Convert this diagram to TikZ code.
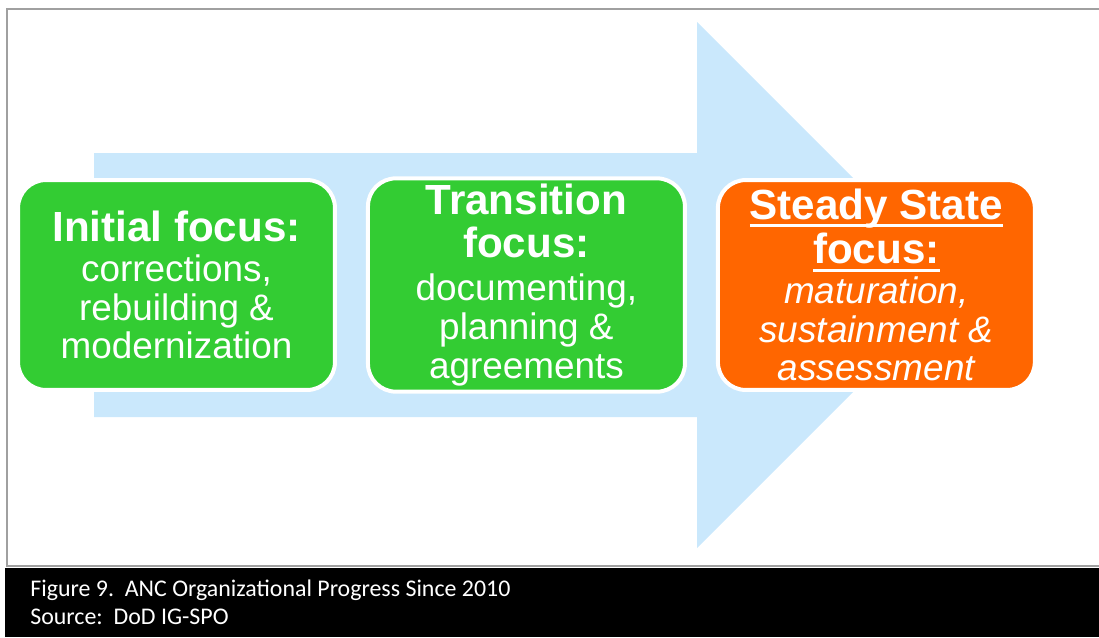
\documentclass[tikz,border=0pt]{standalone}
\usepackage{fontspec}
\setmainfont{Liberation Sans}
\newfontfamily\captionfont{Carlito}
\usetikzlibrary{positioning}
\definecolor{stagegreen}{RGB}{51,204,51}
\definecolor{stageorange}{RGB}{255,102,0}
\definecolor{arrowblue}{RGB}{202,232,252}
\definecolor{framegray}{RGB}{160,160,160}
\newcommand{\stageul}[1]{\setbox0\hbox{#1}\rlap{\rule[-4.6pt]{\wd0}{1.8pt}}\box0}
\tikzset{
	stagebox/.style={draw=white, line width=0.08cm, rounded corners=0.56cm,
		minimum width=6.34cm, minimum height=4.2cm, align=center, text=white,
		font=\fontsize{21}{22}\selectfont},
	captiontext/.style={text=white, inner sep=0pt, anchor=base west,
		font=\captionfont\fontsize{13.6}{15}\selectfont},
}

\begin{document}
\begin{tikzpicture}[x=0.02cm, y=-0.02cm]
		\useasboundingbox (0,0) rectangle (1099,637);
		% Frame and caption bar
		\draw [framegray, line width=0.04cm] (1099,566)--(7,566)--(7,9)--(1099,9);
		\fill [black] (5,568) rectangle (1099,637);
		\node [captiontext] (caption) at (30,596) {Figure 9.\ \ ANC Organizational Progress Since 2010};
		\node [captiontext] (source) at (30,624) {Source:\ \ DoD IG-SPO};
		% Big arrow
		\fill [arrowblue] (94,153)--(697,153)--(697,22)--(960,285)--(697,548)--(697,417)--(94,417)--cycle;
		% Stages
		\node [stagebox, fill=stagegreen] (initial) at (176.5,285)
			{{\bfseries\fontsize{24}{25}\selectfont Initial focus:}\\[1pt]
			corrections,\\ rebuilding \&\\ modernization};
		\node [stagebox, fill=stagegreen, right=0.58cm of initial] (transition)
			{{\bfseries\fontsize{24}{25}\selectfont Transition}\\[2.5pt]
			{\bfseries\fontsize{24}{25}\selectfont focus:}\\[2.5pt]
			documenting,\\ planning \&\\ agreements};
		\node [stagebox, fill=stageorange, right=0.58cm of transition] (steady)
			{{\bfseries\fontsize{24}{25}\selectfont \stageul{Steady State}}\\[2pt]
			{\bfseries\fontsize{24}{25}\selectfont \stageul{focus:}}\\[0.5pt]
			\itshape maturation,\\ \itshape sustainment \&\\ \itshape assessment};
\end{tikzpicture}
\end{document}
